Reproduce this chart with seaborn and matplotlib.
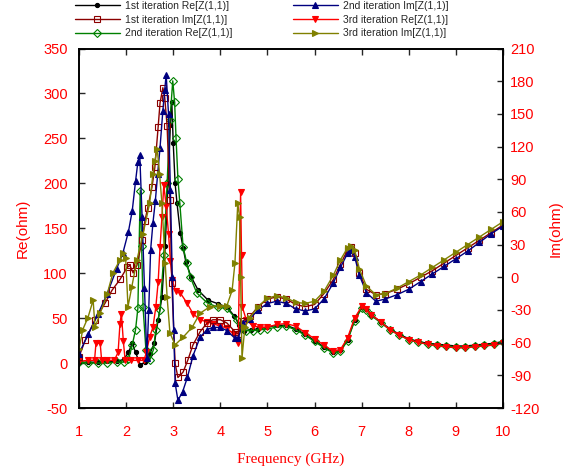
import matplotlib
matplotlib.use('Agg')
import matplotlib.pyplot as plt
import seaborn as sns

# values; Re on the left axis, Im on the right axis
freq_re1 = [1.0, 1.2, 1.4, 1.6, 1.8, 1.95, 2.05, 2.13, 2.2, 2.3, 2.4, 2.5, 2.6, 2.68, 2.76,
            2.83, 2.89, 2.94, 2.97, 3.0, 3.04, 3.08, 3.15, 3.21, 3.27, 3.38, 3.53, 3.74, 3.95,
            4.15, 4.3, 4.4, 4.5, 4.65, 4.8, 5.0, 5.2, 5.4, 5.6, 5.8, 6.0, 6.2, 6.4, 6.55, 6.7,
            6.85, 7.0, 7.1, 7.2, 7.4, 7.6, 7.8, 8.0, 8.2, 8.4, 8.6, 8.8, 9.0, 9.2, 9.4, 9.6,
            9.8, 10.0]
re1 = [1, 1, 1, 2, 2, 4, 12, 22, 12, -2, 1, 10, 22, 48, 73,
       130, 200, 265, 290, 245, 200, 178, 145, 128, 112, 96, 81, 70, 66,
       62, 52, 42, 36, 37, 38, 40, 42, 42, 38, 32, 25, 18, 12, 14, 26,
       48, 62, 60, 54, 46, 38, 32, 27, 24, 22, 21, 20, 19, 19, 20, 21,
       22, 24]

freq_re2 = [1.0, 1.2, 1.4, 1.6, 1.8, 1.95, 2.05, 2.13, 2.2, 2.25, 2.3, 2.33, 2.36, 2.42, 2.5,
            2.58, 2.63, 2.72, 2.8, 2.87, 2.93, 2.99, 3.03, 3.06, 3.1, 3.14, 3.21, 3.29, 3.36,
            3.5, 3.72, 3.95, 4.14, 4.35, 4.45, 4.55, 4.7, 4.85, 5.0, 5.2, 5.4, 5.6, 5.8, 6.0,
            6.2, 6.4, 6.55, 6.7, 6.85, 7.0, 7.1, 7.2, 7.4, 7.6, 7.8, 8.0, 8.2, 8.4, 8.6, 8.8,
            9.0, 9.2, 9.4, 9.6, 9.8, 10.0]
re2 = [1, 0, 0, 0, 1, 1, 4, 20, 37, 61, 192, 130, 62, 15, 3,
       15, 37, 59, 120, 200, 270, 314, 290, 250, 205, 178, 129, 111, 96,
       78, 67, 62, 61, 48, 40, 36, 36, 37, 38, 40, 41, 37, 31, 24,
       17, 11, 13, 25, 47, 61, 59, 53, 45, 37, 31, 26, 23, 21, 20, 19,
       18, 18, 19, 20, 21, 23]

freq_re3 = [1.0, 1.2, 1.33, 1.36, 1.45, 1.48, 1.6, 1.75, 1.83, 1.87, 1.9, 1.94, 1.98, 2.1, 2.25,
            2.38, 2.43, 2.5, 2.57, 2.63, 2.68, 2.72, 2.76, 2.8, 2.85, 2.9, 2.94, 2.98, 3.05,
            3.15, 3.29, 3.42, 3.57, 3.72, 3.84, 4.0, 4.14, 4.28, 4.38, 4.43, 4.45, 4.47, 4.55,
            4.7, 4.85, 5.0, 5.2, 5.4, 5.6, 5.8, 6.0, 6.2, 6.4, 6.55, 6.7, 6.85, 7.0, 7.1, 7.2,
            7.4, 7.6, 7.8, 8.0, 8.2, 8.4, 8.6, 8.8, 9.0, 9.2, 9.4, 9.6, 9.8, 10.0]
re3 = [2, 3, 3, 22, 22, 3, 3, 3, 12, 44, 55, 25, 3, 3, 3,
       3, 12, 29, 40, 62, 90, 129, 162, 198, 175, 144, 114, 92, 80,
       78, 67, 55, 48, 46, 44, 41, 39, 32, 22, 190, 120, 62, 48,
       41, 40, 40, 43, 44, 41, 34, 27, 20, 13, 15, 28, 50, 63, 60, 54,
       46, 37, 31, 26, 23, 21, 19, 18, 17, 17, 18, 19, 20, 22]

freq_im1 = [1.0, 1.13, 1.34, 1.55, 1.7, 1.87, 2.02, 2.08, 2.15, 2.23, 2.34, 2.4, 2.46, 2.55,
            2.61, 2.68, 2.72, 2.78, 2.82, 2.87, 2.93, 2.97, 3.04, 3.1, 3.21, 3.31, 3.42, 3.57,
            3.72, 3.84, 4.0, 4.14, 4.31, 4.38, 4.48, 4.63, 4.8, 5.0, 5.2, 5.4, 5.6, 5.8, 6.0,
            6.2, 6.4, 6.55, 6.7, 6.77, 6.85, 6.95, 7.1, 7.3, 7.5, 7.75, 8.0, 8.25, 8.5, 8.75,
            9.0, 9.25, 9.5, 9.75, 10.0]
im1 = [-73, -58, -39, -24, -12, -2, 9, 11, 4, 11, 34, 52, 64, 83,
       101, 138, 160, 174, 165, 139, 71, -5, -79, -92, -87, -76, -62, -50,
       -42, -39, -39, -42, -50, -52, -40, -36, -27, -20, -18, -20, -25, -27, -25,
       -15, -2, 12, 25, 28, 22, 4, -11, -16, -15, -11, -6, 0, 6, 13,
       20, 27, 34, 41, 48]

freq_im2 = [1.0, 1.2, 1.4, 1.6, 1.8, 1.93, 2.05, 2.13, 2.2, 2.25, 2.29, 2.34, 2.39, 2.44, 2.48,
            2.52, 2.57, 2.62, 2.67, 2.72, 2.78, 2.82, 2.85, 2.9, 2.94, 2.98, 3.01, 3.04, 3.1,
            3.2, 3.3, 3.42, 3.57, 3.72, 3.84, 4.0, 4.14, 4.31, 4.38, 4.48, 4.63, 4.8, 5.0,
            5.2, 5.4, 5.6, 5.8, 6.0, 6.2, 6.4, 6.55, 6.7, 6.77, 6.85, 6.95, 7.1, 7.3, 7.5,
            7.75, 8.0, 8.25, 8.5, 8.75, 9.0, 9.25, 9.5, 9.75, 10.0]
im2 = [-70, -52, -34, -15, 8, 22, 42, 61, 88, 106, 112, 55, -10, -74, -30,
       25, 50, 70, 95, 119, 153, 172, 186, 150, 80, 0, -48, -97, -113,
       -105, -92, -72, -55, -48, -46, -46, -49, -56, -56, -42, -38, -30, -24,
       -22, -24, -29, -31, -29, -20, -5, 9, 22, 25, 19, 2, -14, -22, -20,
       -16, -11, -4, 3, 10, 17, 24, 32, 40, 47]

freq_im3 = [1.0, 1.08, 1.19, 1.3, 1.34, 1.45, 1.6, 1.72, 1.87, 1.93, 1.99, 2.04, 2.12, 2.23,
            2.36, 2.5, 2.57, 2.61, 2.66, 2.71, 2.76, 2.83, 2.87, 2.93, 3.04, 3.21, 3.4, 3.57,
            3.78, 3.99, 4.14, 4.25, 4.31, 4.37, 4.41, 4.43, 4.46, 4.52, 4.63, 4.8, 5.0, 5.2,
            5.4, 5.6, 5.8, 6.0, 6.2, 6.4, 6.55, 6.7, 6.77, 6.85, 6.95, 7.1, 7.3, 7.5, 7.75,
            8.0, 8.25, 8.5, 8.75, 9.0, 9.25, 9.5, 9.75, 10.0]
im3 = [-66, -48, -37, -21, -46, -33, -15, 4, 16, 22, 18, -27, -9, 16,
       40, 68, 95, 107, 118, 95, 68, 13, -18, -51, -62, -55, -46, -33,
       -27, -26, -26, -12, 13, 68, 55, 0, -74, -46, -37, -27, -19, -17,
       -19, -23, -24, -22, -13, 2, 16, 27, 29, 25, 8, -8, -16, -15, -10,
       -4, 2, 9, 16, 23, 30, 37, 44, 51]

sns.set_style("ticks")
plt.rcParams['font.family'] = ['Liberation Sans', 'DejaVu Sans']
plt.rcParams['axes.unicode_minus'] = False

fig = plt.figure(figsize=(5.63, 4.73), dpi=100)
ax = fig.add_axes([79 / 563, 1 - 408 / 473, 424 / 563, 359.5 / 473])
ax2 = ax.twinx()

curves = [
    (ax, freq_re1, re1, "1st iteration Re[Z(1,1)]", "#000000", "o", "#000000", 3),
    (ax2, freq_im1, im1, "1st iteration Im[Z(1,1)]", "#8b0000", "s", "none", 4),
    (ax, freq_re2, re2, "2nd iteration Re[Z(1,1)]", "#008000", "D", "none", 4),
    (ax2, freq_im2, im2, "2nd iteration Im[Z(1,1)]", "#000080", "^", "#000080", 4),
    (ax, freq_re3, re3, "3rd iteration Re[Z(1,1)]", "#ff0000", "v", "#ff0000", 4),
    (ax2, freq_im3, im3, "3rd iteration Im[Z(1,1)]", "#808000", ">", "#808000", 4),
]

handles = []
for a, f, v, name, col, mk, face, ms in curves:
    sns.lineplot(x=f, y=v, ax=a, color=col, marker=mk, markersize=ms,
                 markerfacecolor=face, markeredgecolor=col, markeredgewidth=0.8,
                 linewidth=1, label=name, legend=False, estimator=None, sort=False)
    handles.append(a.lines[-1])

ax.set_xlim(1, 10)
ax.set_ylim(-50, 350)
ax2.set_ylim(-120, 210)
ax.set_xticks(range(1, 11))
ax.set_yticks(range(-50, 351, 50))
ax2.set_yticks(range(-120, 211, 30))

ax.tick_params(axis='both', direction='in', length=4, width=1, labelsize=10.5,
               labelcolor='red', top=True, pad=8)
ax.tick_params(axis='x', pad=12)
ax2.tick_params(axis='y', direction='in', length=4, width=1, labelsize=10.5,
                labelcolor='red', pad=5)
for a in (ax, ax2):
    for s in a.spines.values():
        s.set_color('black')
        s.set_linewidth(1.2)

ax.set_xlabel("Frequency (GHz)", color='red', fontsize=11,
              family=['Liberation Serif', 'DejaVu Serif'], labelpad=10)
ax.set_ylabel("Re(ohm)", color='red', fontsize=11, labelpad=10)
ax2.set_ylabel("Im(ohm)", color='red', fontsize=11, labelpad=7)

fig.legend(handles, [h.get_label() for h in handles], ncol=2, loc='upper left',
           bbox_to_anchor=(75 / 563, 1 - 1 / 473), frameon=False, borderpad=0,
           borderaxespad=0, prop={'family': ['Liberation Sans', 'DejaVu Sans'], 'size': 7.5},
           handlelength=4.3, handletextpad=0.5, columnspacing=5.8, labelspacing=0.35)

fig.savefig("out.png", dpi=100)
plt.close(fig)
